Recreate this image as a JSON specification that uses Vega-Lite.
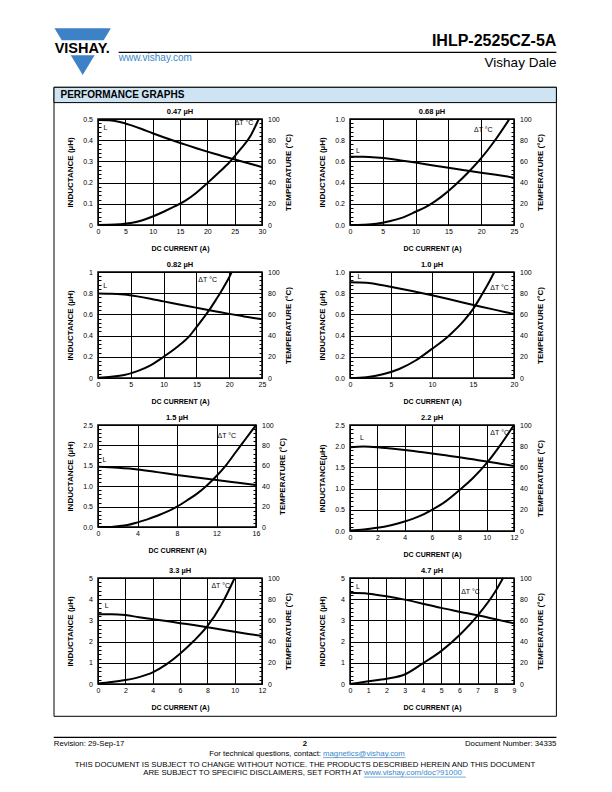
{
  "$schema": "https://vega.github.io/schema/vega-lite/v6.json",
  "padding": 0,
  "background": "white",
  "bounds": "flush",
  "spacing": 0,
  "datasets": {
    "p1L": [{"a":0,"v":0.495},{"a":2,"v":0.494},{"a":4,"v":0.486},{"a":6,"v":0.471},{"a":8,"v":0.453},{"a":10,"v":0.433},{"a":12,"v":0.414},{"a":14,"v":0.396},{"a":16,"v":0.379},{"a":18,"v":0.362},{"a":20,"v":0.346},{"a":22,"v":0.331},{"a":24,"v":0.316},{"a":26,"v":0.302},{"a":28,"v":0.288},{"a":30,"v":0.273}],
    "p1T": [{"a":0,"v":0},{"a":2,"v":0.2},{"a":4,"v":0.7},{"a":6,"v":1.8},{"a":8,"v":4.3},{"a":10,"v":8},{"a":12,"v":12.5},{"a":14,"v":17.5},{"a":16,"v":23},{"a":18,"v":30.5},{"a":20,"v":39.5},{"a":22,"v":49},{"a":24,"v":59},{"a":26,"v":71},{"a":28,"v":85},{"a":29.4,"v":100}],
    "p2L": [{"a":0,"v":0.645},{"a":2,"v":0.643},{"a":4,"v":0.636},{"a":6,"v":0.625},{"a":8,"v":0.607},{"a":10,"v":0.589},{"a":12,"v":0.569},{"a":14,"v":0.549},{"a":16,"v":0.53},{"a":18,"v":0.512},{"a":20,"v":0.494},{"a":22,"v":0.476},{"a":24,"v":0.457},{"a":25,"v":0.447}],
    "p2T": [{"a":0,"v":0},{"a":2,"v":0.3},{"a":4,"v":1.2},{"a":6,"v":3.5},{"a":8,"v":7},{"a":10,"v":12.5},{"a":12,"v":18.5},{"a":14,"v":27},{"a":16,"v":37.5},{"a":18,"v":49.5},{"a":20,"v":63},{"a":22,"v":79},{"a":24.3,"v":100}],
    "p3L": [{"a":0,"v":0.796},{"a":2,"v":0.795},{"a":4,"v":0.787},{"a":6,"v":0.77},{"a":8,"v":0.748},{"a":10,"v":0.723},{"a":12,"v":0.699},{"a":14,"v":0.675},{"a":16,"v":0.651},{"a":18,"v":0.628},{"a":20,"v":0.605},{"a":22,"v":0.584},{"a":24,"v":0.564},{"a":25,"v":0.555}],
    "p3T": [{"a":0,"v":0.3},{"a":2,"v":1.2},{"a":4,"v":2.8},{"a":6,"v":6.5},{"a":8,"v":12},{"a":10,"v":20},{"a":12,"v":29},{"a":14,"v":40},{"a":15,"v":48},{"a":16,"v":56},{"a":17,"v":64.5},{"a":18,"v":74},{"a":19,"v":84},{"a":20,"v":95},{"a":20.4,"v":100}],
    "p4L": [{"a":0,"v":0.903},{"a":2,"v":0.899},{"a":4,"v":0.874},{"a":6,"v":0.845},{"a":8,"v":0.813},{"a":10,"v":0.78},{"a":12,"v":0.745},{"a":14,"v":0.708},{"a":16,"v":0.672},{"a":18,"v":0.638},{"a":20,"v":0.604}],
    "p4T": [{"a":0,"v":0},{"a":2,"v":0.8},{"a":4,"v":3.5},{"a":6,"v":8.5},{"a":8,"v":16.5},{"a":10,"v":27.5},{"a":12,"v":39.5},{"a":14,"v":55},{"a":15,"v":65},{"a":16,"v":77.5},{"a":17,"v":91},{"a":17.6,"v":100}],
    "p5L": [{"a":0,"v":1.476},{"a":2,"v":1.45},{"a":4,"v":1.41},{"a":6,"v":1.345},{"a":8,"v":1.277},{"a":10,"v":1.212},{"a":12,"v":1.15},{"a":14,"v":1.09},{"a":16,"v":1.03}],
    "p5T": [{"a":0,"v":0},{"a":1,"v":0},{"a":2,"v":0.8},{"a":3,"v":2},{"a":4,"v":4.5},{"a":5,"v":7.5},{"a":6,"v":11},{"a":7,"v":15},{"a":8,"v":20},{"a":9,"v":26},{"a":10,"v":32.5},{"a":11,"v":40.5},{"a":12,"v":50},{"a":13,"v":61},{"a":14,"v":74},{"a":15,"v":87},{"a":16,"v":100}],
    "p6L": [{"a":0,"v":1.975},{"a":1,"v":1.99},{"a":2,"v":1.975},{"a":3,"v":1.945},{"a":4,"v":1.91},{"a":5,"v":1.87},{"a":6,"v":1.83},{"a":7,"v":1.785},{"a":8,"v":1.74},{"a":9,"v":1.69},{"a":10,"v":1.64},{"a":11,"v":1.588},{"a":12,"v":1.535}],
    "p6T": [{"a":0,"v":0.5},{"a":1,"v":1.5},{"a":2,"v":3},{"a":3,"v":5.5},{"a":4,"v":9},{"a":5,"v":13.5},{"a":6,"v":20},{"a":7,"v":28},{"a":8,"v":38.5},{"a":9,"v":50},{"a":10,"v":64},{"a":11,"v":81},{"a":12,"v":100}],
    "p7L": [{"a":0,"v":3.29},{"a":1,"v":3.29},{"a":2,"v":3.25},{"a":3,"v":3.15},{"a":4,"v":3.06},{"a":5,"v":2.97},{"a":6,"v":2.87},{"a":7,"v":2.78},{"a":8,"v":2.68},{"a":9,"v":2.57},{"a":10,"v":2.46},{"a":11,"v":2.36},{"a":12,"v":2.27}],
    "p7T": [{"a":0,"v":0.5},{"a":1,"v":1.8},{"a":2,"v":3.7},{"a":3,"v":6.5},{"a":4,"v":11},{"a":5,"v":18.5},{"a":6,"v":28.5},{"a":7,"v":40.5},{"a":8,"v":54.5},{"a":9,"v":74},{"a":10,"v":100}],
    "p8L": [{"a":0,"v":4.3},{"a":1,"v":4.26},{"a":2,"v":4.14},{"a":3,"v":3.98},{"a":4,"v":3.79},{"a":5,"v":3.59},{"a":6,"v":3.41},{"a":7,"v":3.24},{"a":8,"v":3.05},{"a":9,"v":2.86}],
    "p8T": [{"a":0,"v":0},{"a":1,"v":2.5},{"a":2,"v":5},{"a":3,"v":9},{"a":4,"v":19.5},{"a":5,"v":31},{"a":6,"v":46},{"a":7,"v":64.5},{"a":8,"v":88},{"a":8.4,"v":100}]
  },
  "vconcat": [
    {
      "width": 459,
      "height": 1,
      "data": {"values": [{}]},
      "view": {"stroke": null},
      "layer": [
        {"mark": {"type": "rect", "color": "white"}, "encoding": {"x": {"datum": 0, "scale": {"domain": [98, 557], "nice": false, "zero": false}, "axis": null}, "x2": {"datum": 612}, "y": {"datum": 0, "scale": {"domain": [118, 119], "reverse": true, "nice": false, "zero": false}, "axis": null}, "y2": {"datum": 792}}},
        {"mark": {"type": "rect", "filled": false, "color": "black", "strokeWidth": 1}, "encoding": {"x": {"datum": 54, "scale": {"domain": [98, 557], "nice": false, "zero": false}, "axis": null}, "x2": {"datum": 556.4}, "y": {"datum": 87.3, "scale": {"domain": [118, 119], "reverse": true, "nice": false, "zero": false}, "axis": null}, "y2": {"datum": 716.3}}},
        {"mark": {"type": "rect", "fill": "#cfe4f2", "stroke": "black", "strokeWidth": 1}, "encoding": {"x": {"datum": 54, "scale": {"domain": [98, 557], "nice": false, "zero": false}, "axis": null}, "x2": {"datum": 556.4}, "y": {"datum": 87.3, "scale": {"domain": [118, 119], "reverse": true, "nice": false, "zero": false}, "axis": null}, "y2": {"datum": 102.6}}},
        {"mark": {"type": "text", "align": "left", "baseline": "middle", "fontSize": 10, "fontWeight": "bold"}, "encoding": {"x": {"datum": 60.5, "scale": {"domain": [98, 557], "nice": false, "zero": false}, "axis": null}, "y": {"datum": 95, "scale": {"domain": [118, 119], "reverse": true, "nice": false, "zero": false}, "axis": null}, "text": {"value": "PERFORMANCE GRAPHS"}}},
        {"mark": {"type": "point", "shape": "M-1,-1L1,-1L0,0.656Z", "size": 3181, "filled": true, "color": "#3d82c6", "opacity": 1, "strokeWidth": 0}, "encoding": {"x": {"datum": 82.7, "scale": {"domain": [98, 557], "nice": false, "zero": false}, "axis": null}, "y": {"datum": 56.5, "scale": {"domain": [118, 119], "reverse": true, "nice": false, "zero": false}, "axis": null}}},
        {"mark": {"type": "rect", "color": "white"}, "encoding": {"x": {"datum": 52, "scale": {"domain": [98, 557], "nice": false, "zero": false}, "axis": null}, "x2": {"datum": 113}, "y": {"datum": 40.3, "scale": {"domain": [118, 119], "reverse": true, "nice": false, "zero": false}, "axis": null}, "y2": {"datum": 55.3}}},
        {"mark": {"type": "text", "align": "center", "baseline": "alphabetic", "fontSize": 14.5, "fontWeight": "bold"}, "encoding": {"x": {"datum": 82.2, "scale": {"domain": [98, 557], "nice": false, "zero": false}, "axis": null}, "y": {"datum": 53.3, "scale": {"domain": [118, 119], "reverse": true, "nice": false, "zero": false}, "axis": null}, "text": {"value": "VISHAY."}}},
        {"mark": {"type": "rule", "color": "black", "strokeWidth": 1.2}, "encoding": {"x": {"datum": 118.7, "scale": {"domain": [98, 557], "nice": false, "zero": false}, "axis": null}, "x2": {"datum": 556.4}, "y": {"datum": 52.3, "scale": {"domain": [118, 119], "reverse": true, "nice": false, "zero": false}, "axis": null}}},
        {"mark": {"type": "text", "align": "right", "baseline": "alphabetic", "fontSize": 16, "fontWeight": "bold"}, "encoding": {"x": {"datum": 556.4, "scale": {"domain": [98, 557], "nice": false, "zero": false}, "axis": null}, "y": {"datum": 46, "scale": {"domain": [118, 119], "reverse": true, "nice": false, "zero": false}, "axis": null}, "text": {"value": "IHLP-2525CZ-5A"}}},
        {"mark": {"type": "text", "align": "right", "baseline": "alphabetic", "fontSize": 13.5}, "encoding": {"x": {"datum": 556.4, "scale": {"domain": [98, 557], "nice": false, "zero": false}, "axis": null}, "y": {"datum": 66.7, "scale": {"domain": [118, 119], "reverse": true, "nice": false, "zero": false}, "axis": null}, "text": {"value": "Vishay Dale"}}},
        {"mark": {"type": "text", "align": "left", "baseline": "middle", "fontSize": 10, "color": "#3b87c9"}, "encoding": {"x": {"datum": 118.7, "scale": {"domain": [98, 557], "nice": false, "zero": false}, "axis": null}, "y": {"datum": 58.3, "scale": {"domain": [118, 119], "reverse": true, "nice": false, "zero": false}, "axis": null}, "text": {"value": "www.vishay.com"}}},
        {"mark": {"type": "rule", "color": "black", "strokeWidth": 1.2}, "encoding": {"x": {"datum": 53.8, "scale": {"domain": [98, 557], "nice": false, "zero": false}, "axis": null}, "x2": {"datum": 556.4}, "y": {"datum": 737.4, "scale": {"domain": [118, 119], "reverse": true, "nice": false, "zero": false}, "axis": null}}},
        {"mark": {"type": "text", "align": "left", "baseline": "middle", "fontSize": 7.8}, "encoding": {"x": {"datum": 53.8, "scale": {"domain": [98, 557], "nice": false, "zero": false}, "axis": null}, "y": {"datum": 743.5, "scale": {"domain": [118, 119], "reverse": true, "nice": false, "zero": false}, "axis": null}, "text": {"value": "Revision: 29-Sep-17"}}},
        {"mark": {"type": "text", "align": "center", "baseline": "middle", "fontSize": 7.8, "fontWeight": "bold"}, "encoding": {"x": {"datum": 305, "scale": {"domain": [98, 557], "nice": false, "zero": false}, "axis": null}, "y": {"datum": 743.5, "scale": {"domain": [118, 119], "reverse": true, "nice": false, "zero": false}, "axis": null}, "text": {"value": "2"}}},
        {"mark": {"type": "text", "align": "right", "baseline": "middle", "fontSize": 7.8}, "encoding": {"x": {"datum": 556.4, "scale": {"domain": [98, 557], "nice": false, "zero": false}, "axis": null}, "y": {"datum": 743.5, "scale": {"domain": [118, 119], "reverse": true, "nice": false, "zero": false}, "axis": null}, "text": {"value": "Document Number: 34335"}}},
        {"mark": {"type": "text", "align": "right", "baseline": "middle", "fontSize": 7.8}, "encoding": {"x": {"datum": 321, "scale": {"domain": [98, 557], "nice": false, "zero": false}, "axis": null}, "y": {"datum": 753.7, "scale": {"domain": [118, 119], "reverse": true, "nice": false, "zero": false}, "axis": null}, "text": {"value": "For technical questions, contact:"}}},
        {"mark": {"type": "text", "align": "left", "baseline": "middle", "fontSize": 7.8, "color": "#3b87c9"}, "encoding": {"x": {"datum": 323, "scale": {"domain": [98, 557], "nice": false, "zero": false}, "axis": null}, "y": {"datum": 753.7, "scale": {"domain": [118, 119], "reverse": true, "nice": false, "zero": false}, "axis": null}, "text": {"value": "magnetics@vishay.com"}}},
        {"mark": {"type": "rule", "color": "#3b87c9", "strokeWidth": 0.7}, "encoding": {"x": {"datum": 323, "scale": {"domain": [98, 557], "nice": false, "zero": false}, "axis": null}, "x2": {"datum": 405.5}, "y": {"datum": 757.6, "scale": {"domain": [118, 119], "reverse": true, "nice": false, "zero": false}, "axis": null}}},
        {"mark": {"type": "text", "align": "center", "baseline": "middle", "fontSize": 7.8}, "encoding": {"x": {"datum": 305, "scale": {"domain": [98, 557], "nice": false, "zero": false}, "axis": null}, "y": {"datum": 765.3, "scale": {"domain": [118, 119], "reverse": true, "nice": false, "zero": false}, "axis": null}, "text": {"value": "THIS DOCUMENT IS SUBJECT TO CHANGE WITHOUT NOTICE. THE PRODUCTS DESCRIBED HEREIN AND THIS DOCUMENT"}}},
        {"mark": {"type": "text", "align": "right", "baseline": "middle", "fontSize": 7.8}, "encoding": {"x": {"datum": 362, "scale": {"domain": [98, 557], "nice": false, "zero": false}, "axis": null}, "y": {"datum": 773.2, "scale": {"domain": [118, 119], "reverse": true, "nice": false, "zero": false}, "axis": null}, "text": {"value": "ARE SUBJECT TO SPECIFIC DISCLAIMERS, SET FORTH AT"}}},
        {"mark": {"type": "text", "align": "left", "baseline": "middle", "fontSize": 7.8, "color": "#3b87c9"}, "encoding": {"x": {"datum": 364, "scale": {"domain": [98, 557], "nice": false, "zero": false}, "axis": null}, "y": {"datum": 773.2, "scale": {"domain": [118, 119], "reverse": true, "nice": false, "zero": false}, "axis": null}, "text": {"value": "www.vishay.com/doc?91000"}}},
        {"mark": {"type": "rule", "color": "#3b87c9", "strokeWidth": 0.7}, "encoding": {"x": {"datum": 364, "scale": {"domain": [98, 557], "nice": false, "zero": false}, "axis": null}, "x2": {"datum": 465.8}, "y": {"datum": 777.1, "scale": {"domain": [118, 119], "reverse": true, "nice": false, "zero": false}, "axis": null}}}
      ]
    },
    {
      "columns": 2,
      "bounds": "flush",
      "spacing": {"row": 47, "column": 88},
      "concat": [
        {
          "width": 164, "height": 106, "title": "0.47 µH",
          "encoding": {"x": {"field": "a", "type": "quantitative", "title": "DC CURRENT (A)", "scale": {"domain": [0, 30], "nice": false}, "axis": {"values": [0, 5, 10, 15, 20, 25, 30]}}},
          "layer": [
            {"encoding": {"y": {"field": "v", "type": "quantitative", "title": "INDUCTANCE (µH)", "scale": {"domain": [0, 0.5], "nice": false}, "axis": {"orient": "left", "format": "~g", "values": [0,0.02,0.04,0.06,0.08,0.1,0.12,0.14,0.16,0.18,0.2,0.22,0.24,0.26,0.28,0.3,0.32,0.34,0.36,0.38,0.4,0.42,0.44,0.46,0.48,0.5], "labelExpr": "indexof([0,0.1,0.2,0.3,0.4,0.5], datum.value) >= 0 ? datum.label : ''", "gridOpacity": {"condition": {"test": "indexof([0,0.1,0.2,0.3,0.4,0.5], datum.value) >= 0", "value": 1}, "value": 0}, "tickOpacity": {"condition": {"test": "indexof([0,0.1,0.2,0.3,0.4,0.5], datum.value) >= 0", "value": 0}, "value": 1}}}},
             "layer": [
               {"data": {"name": "p1L"}, "mark": "line"},
               {"data": {"values": [{"a": 1, "v": 0.456, "t": "L"}]}, "mark": {"type": "text", "align": "left"}, "encoding": {"text": {"field": "t"}}}
             ]},
            {"encoding": {"y": {"field": "v", "type": "quantitative", "title": "TEMPERATURE (°C)", "scale": {"domain": [0, 100], "nice": false}, "axis": {"orient": "right", "grid": false, "values": [0,4,8,12,16,20,24,28,32,36,40,44,48,52,56,60,64,68,72,76,80,84,88,92,96,100], "labelExpr": "indexof([0,20,40,60,80,100], datum.value) >= 0 ? datum.label : ''", "tickOpacity": {"condition": {"test": "indexof([0,20,40,60,80,100], datum.value) >= 0", "value": 0}, "value": 1}}}},
             "layer": [
               {"data": {"name": "p1T"}, "mark": "line"},
               {"data": {"values": [{"a": 25, "v": 96.5, "t": "ΔT °C"}]}, "mark": {"type": "text", "align": "left"}, "encoding": {"text": {"field": "t"}}}
             ]}
          ],
          "resolve": {"scale": {"y": "independent"}}
        },
        {
          "width": 164, "height": 106, "title": "0.68 µH",
          "encoding": {"x": {"field": "a", "type": "quantitative", "title": "DC CURRENT (A)", "scale": {"domain": [0, 25], "nice": false}, "axis": {"values": [0, 5, 10, 15, 20, 25]}}},
          "layer": [
            {"encoding": {"y": {"field": "v", "type": "quantitative", "title": "INDUCTANCE (µH)", "scale": {"domain": [0, 1], "nice": false}, "axis": {"orient": "left", "format": ".1f", "values": [0,0.04,0.08,0.12,0.16,0.2,0.24,0.28,0.32,0.36,0.4,0.44,0.48,0.52,0.56,0.6,0.64,0.68,0.72,0.76,0.8,0.84,0.88,0.92,0.96,1], "labelExpr": "indexof([0,0.2,0.4,0.6,0.8,1], datum.value) >= 0 ? datum.label : ''", "gridOpacity": {"condition": {"test": "indexof([0,0.2,0.4,0.6,0.8,1], datum.value) >= 0", "value": 1}, "value": 0}, "tickOpacity": {"condition": {"test": "indexof([0,0.2,0.4,0.6,0.8,1], datum.value) >= 0", "value": 0}, "value": 1}}}},
             "layer": [
               {"data": {"name": "p2L"}, "mark": "line"},
               {"data": {"values": [{"a": 0.9, "v": 0.7, "t": "L"}]}, "mark": {"type": "text", "align": "left"}, "encoding": {"text": {"field": "t"}}}
             ]},
            {"encoding": {"y": {"field": "v", "type": "quantitative", "title": "TEMPERATURE (°C)", "scale": {"domain": [0, 100], "nice": false}, "axis": {"orient": "right", "grid": false, "values": [0,4,8,12,16,20,24,28,32,36,40,44,48,52,56,60,64,68,72,76,80,84,88,92,96,100], "labelExpr": "indexof([0,20,40,60,80,100], datum.value) >= 0 ? datum.label : ''", "tickOpacity": {"condition": {"test": "indexof([0,20,40,60,80,100], datum.value) >= 0", "value": 0}, "value": 1}}}},
             "layer": [
               {"data": {"name": "p2T"}, "mark": "line"},
               {"data": {"values": [{"a": 18.9, "v": 89.6, "t": "ΔT °C"}]}, "mark": {"type": "text", "align": "left"}, "encoding": {"text": {"field": "t"}}}
             ]}
          ],
          "resolve": {"scale": {"y": "independent"}}
        },
        {
          "width": 164, "height": 106, "title": "0.82 µH",
          "encoding": {"x": {"field": "a", "type": "quantitative", "title": "DC CURRENT (A)", "scale": {"domain": [0, 25], "nice": false}, "axis": {"values": [0, 5, 10, 15, 20, 25]}}},
          "layer": [
            {"encoding": {"y": {"field": "v", "type": "quantitative", "title": "INDUCTANCE (µH)", "scale": {"domain": [0, 1], "nice": false}, "axis": {"orient": "left", "format": "~g", "values": [0,0.04,0.08,0.12,0.16,0.2,0.24,0.28,0.32,0.36,0.4,0.44,0.48,0.52,0.56,0.6,0.64,0.68,0.72,0.76,0.8,0.84,0.88,0.92,0.96,1], "labelExpr": "indexof([0,0.2,0.4,0.6,0.8,1], datum.value) >= 0 ? datum.label : ''", "gridOpacity": {"condition": {"test": "indexof([0,0.2,0.4,0.6,0.8,1], datum.value) >= 0", "value": 1}, "value": 0}, "tickOpacity": {"condition": {"test": "indexof([0,0.2,0.4,0.6,0.8,1], datum.value) >= 0", "value": 0}, "value": 1}}}},
             "layer": [
               {"data": {"name": "p3L"}, "mark": "line"},
               {"data": {"values": [{"a": 0.8, "v": 0.865, "t": "L"}]}, "mark": {"type": "text", "align": "left"}, "encoding": {"text": {"field": "t"}}}
             ]},
            {"encoding": {"y": {"field": "v", "type": "quantitative", "title": "TEMPERATURE (°C)", "scale": {"domain": [0, 100], "nice": false}, "axis": {"orient": "right", "grid": false, "values": [0,4,8,12,16,20,24,28,32,36,40,44,48,52,56,60,64,68,72,76,80,84,88,92,96,100], "labelExpr": "indexof([0,20,40,60,80,100], datum.value) >= 0 ? datum.label : ''", "tickOpacity": {"condition": {"test": "indexof([0,20,40,60,80,100], datum.value) >= 0", "value": 0}, "value": 1}}}},
             "layer": [
               {"data": {"name": "p3T"}, "mark": "line"},
               {"data": {"values": [{"a": 15.3, "v": 92.8, "t": "ΔT °C"}]}, "mark": {"type": "text", "align": "left"}, "encoding": {"text": {"field": "t"}}}
             ]}
          ],
          "resolve": {"scale": {"y": "independent"}}
        },
        {
          "width": 164, "height": 106, "title": "1.0 µH",
          "encoding": {"x": {"field": "a", "type": "quantitative", "title": "DC CURRENT (A)", "scale": {"domain": [0, 20], "nice": false}, "axis": {"values": [0, 5, 10, 15, 20]}}},
          "layer": [
            {"encoding": {"y": {"field": "v", "type": "quantitative", "title": "INDUCTANCE (µH)", "scale": {"domain": [0, 1], "nice": false}, "axis": {"orient": "left", "format": ".1f", "values": [0,0.04,0.08,0.12,0.16,0.2,0.24,0.28,0.32,0.36,0.4,0.44,0.48,0.52,0.56,0.6,0.64,0.68,0.72,0.76,0.8,0.84,0.88,0.92,0.96,1], "labelExpr": "indexof([0,0.2,0.4,0.6,0.8,1], datum.value) >= 0 ? datum.label : ''", "gridOpacity": {"condition": {"test": "indexof([0,0.2,0.4,0.6,0.8,1], datum.value) >= 0", "value": 1}, "value": 0}, "tickOpacity": {"condition": {"test": "indexof([0,0.2,0.4,0.6,0.8,1], datum.value) >= 0", "value": 0}, "value": 1}}}},
             "layer": [
               {"data": {"name": "p4L"}, "mark": "line"},
               {"data": {"values": [{"a": 0.9, "v": 0.95, "t": "L"}]}, "mark": {"type": "text", "align": "left"}, "encoding": {"text": {"field": "t"}}}
             ]},
            {"encoding": {"y": {"field": "v", "type": "quantitative", "title": "TEMPERATURE (°C)", "scale": {"domain": [0, 100], "nice": false}, "axis": {"orient": "right", "grid": false, "values": [0,4,8,12,16,20,24,28,32,36,40,44,48,52,56,60,64,68,72,76,80,84,88,92,96,100], "labelExpr": "indexof([0,20,40,60,80,100], datum.value) >= 0 ? datum.label : ''", "tickOpacity": {"condition": {"test": "indexof([0,20,40,60,80,100], datum.value) >= 0", "value": 0}, "value": 1}}}},
             "layer": [
               {"data": {"name": "p4T"}, "mark": "line"},
               {"data": {"values": [{"a": 17.1, "v": 84.6, "t": "ΔT °C"}]}, "mark": {"type": "text", "align": "left"}, "encoding": {"text": {"field": "t"}}}
             ]}
          ],
          "resolve": {"scale": {"y": "independent"}}
        },
        {
          "width": 158, "height": 102, "title": "1.5 µH",
          "encoding": {"x": {"field": "a", "type": "quantitative", "title": "DC CURRENT (A)", "scale": {"domain": [0, 16], "nice": false}, "axis": {"values": [0, 4, 8, 12, 16]}}},
          "layer": [
            {"encoding": {"y": {"field": "v", "type": "quantitative", "title": "INDUCTANCE (µH)", "scale": {"domain": [0, 2.5], "nice": false}, "axis": {"orient": "left", "format": ".1f", "values": [0,0.1,0.2,0.3,0.4,0.5,0.6,0.7,0.8,0.9,1,1.1,1.2,1.3,1.4,1.5,1.6,1.7,1.8,1.9,2,2.1,2.2,2.3,2.4,2.5], "labelExpr": "indexof([0,0.5,1,1.5,2,2.5], datum.value) >= 0 ? datum.label : ''", "gridOpacity": {"condition": {"test": "indexof([0,0.5,1,1.5,2,2.5], datum.value) >= 0", "value": 1}, "value": 0}, "tickOpacity": {"condition": {"test": "indexof([0,0.5,1,1.5,2,2.5], datum.value) >= 0", "value": 0}, "value": 1}}}},
             "layer": [
               {"data": {"name": "p5L"}, "mark": "line"},
               {"data": {"values": [{"a": 0.45, "v": 1.636, "t": "L"}]}, "mark": {"type": "text", "align": "left"}, "encoding": {"text": {"field": "t"}}}
             ]},
            {"encoding": {"y": {"field": "v", "type": "quantitative", "title": "TEMPERATURE (°C)", "scale": {"domain": [0, 100], "nice": false}, "axis": {"orient": "right", "grid": false, "values": [0,4,8,12,16,20,24,28,32,36,40,44,48,52,56,60,64,68,72,76,80,84,88,92,96,100], "labelExpr": "indexof([0,20,40,60,80,100], datum.value) >= 0 ? datum.label : ''", "tickOpacity": {"condition": {"test": "indexof([0,20,40,60,80,100], datum.value) >= 0", "value": 0}, "value": 1}}}},
             "layer": [
               {"data": {"name": "p5T"}, "mark": "line"},
               {"data": {"values": [{"a": 12.1, "v": 89.6, "t": "ΔT °C"}]}, "mark": {"type": "text", "align": "left"}, "encoding": {"text": {"field": "t"}}}
             ]}
          ],
          "resolve": {"scale": {"y": "independent"}}
        },
        {
          "width": 164, "height": 106, "title": "2.2 µH",
          "encoding": {"x": {"field": "a", "type": "quantitative", "title": "DC CURRENT (A)", "scale": {"domain": [0, 12], "nice": false}, "axis": {"values": [0, 2, 4, 6, 8, 10, 12]}}},
          "layer": [
            {"encoding": {"y": {"field": "v", "type": "quantitative", "title": "INDUCTANCE(µH)", "scale": {"domain": [0, 2.5], "nice": false}, "axis": {"orient": "left", "format": ".1f", "values": [0,0.1,0.2,0.3,0.4,0.5,0.6,0.7,0.8,0.9,1,1.1,1.2,1.3,1.4,1.5,1.6,1.7,1.8,1.9,2,2.1,2.2,2.3,2.4,2.5], "labelExpr": "indexof([0,0.5,1,1.5,2,2.5], datum.value) >= 0 ? datum.label : ''", "gridOpacity": {"condition": {"test": "indexof([0,0.5,1,1.5,2,2.5], datum.value) >= 0", "value": 1}, "value": 0}, "tickOpacity": {"condition": {"test": "indexof([0,0.5,1,1.5,2,2.5], datum.value) >= 0", "value": 0}, "value": 1}}}},
             "layer": [
               {"data": {"name": "p6L"}, "mark": "line"},
               {"data": {"values": [{"a": 0.73, "v": 2.19, "t": "L"}]}, "mark": {"type": "text", "align": "left"}, "encoding": {"text": {"field": "t"}}}
             ]},
            {"encoding": {"y": {"field": "v", "type": "quantitative", "title": "TEMPERATURE (°C)", "scale": {"domain": [0, 100], "nice": false}, "axis": {"orient": "right", "grid": false, "values": [0,4,8,12,16,20,24,28,32,36,40,44,48,52,56,60,64,68,72,76,80,84,88,92,96,100], "labelExpr": "indexof([0,20,40,60,80,100], datum.value) >= 0 ? datum.label : ''", "tickOpacity": {"condition": {"test": "indexof([0,20,40,60,80,100], datum.value) >= 0", "value": 0}, "value": 1}}}},
             "layer": [
               {"data": {"name": "p6T"}, "mark": "line"},
               {"data": {"values": [{"a": 10.27, "v": 92.2, "t": "ΔT °C"}]}, "mark": {"type": "text", "align": "left"}, "encoding": {"text": {"field": "t"}}}
             ]}
          ],
          "resolve": {"scale": {"y": "independent"}}
        },
        {
          "width": 164, "height": 106, "title": "3.3 µH",
          "encoding": {"x": {"field": "a", "type": "quantitative", "title": "DC CURRENT (A)", "scale": {"domain": [0, 12], "nice": false}, "axis": {"values": [0, 2, 4, 6, 8, 10, 12]}}},
          "layer": [
            {"encoding": {"y": {"field": "v", "type": "quantitative", "title": "INDUCTANCE (µH)", "scale": {"domain": [0, 5], "nice": false}, "axis": {"orient": "left", "format": "~g", "values": [0,0.2,0.4,0.6,0.8,1,1.2,1.4,1.6,1.8,2,2.2,2.4,2.6,2.8,3,3.2,3.4,3.6,3.8,4,4.2,4.4,4.6,4.8,5], "labelExpr": "indexof([0,1,2,3,4,5], datum.value) >= 0 ? datum.label : ''", "gridOpacity": {"condition": {"test": "indexof([0,1,2,3,4,5], datum.value) >= 0", "value": 1}, "value": 0}, "tickOpacity": {"condition": {"test": "indexof([0,1,2,3,4,5], datum.value) >= 0", "value": 0}, "value": 1}}}},
             "layer": [
               {"data": {"name": "p7L"}, "mark": "line"},
               {"data": {"values": [{"a": 0.5, "v": 3.7, "t": "L"}]}, "mark": {"type": "text", "align": "left"}, "encoding": {"text": {"field": "t"}}}
             ]},
            {"encoding": {"y": {"field": "v", "type": "quantitative", "title": "TEMPERATURE (°C)", "scale": {"domain": [0, 100], "nice": false}, "axis": {"orient": "right", "grid": false, "values": [0,4,8,12,16,20,24,28,32,36,40,44,48,52,56,60,64,68,72,76,80,84,88,92,96,100], "labelExpr": "indexof([0,20,40,60,80,100], datum.value) >= 0 ? datum.label : ''", "tickOpacity": {"condition": {"test": "indexof([0,20,40,60,80,100], datum.value) >= 0", "value": 0}, "value": 1}}}},
             "layer": [
               {"data": {"name": "p7T"}, "mark": "line"},
               {"data": {"values": [{"a": 8.3, "v": 92.2, "t": "ΔT °C"}]}, "mark": {"type": "text", "align": "left"}, "encoding": {"text": {"field": "t"}}}
             ]}
          ],
          "resolve": {"scale": {"y": "independent"}}
        },
        {
          "width": 164, "height": 106, "title": "4.7 µH",
          "encoding": {"x": {"field": "a", "type": "quantitative", "title": "DC CURRENT (A)", "scale": {"domain": [0, 9], "nice": false}, "axis": {"values": [0, 1, 2, 3, 4, 5, 6, 7, 8, 9]}}},
          "layer": [
            {"encoding": {"y": {"field": "v", "type": "quantitative", "title": "INDUCTANCE (µH)", "scale": {"domain": [0, 5], "nice": false}, "axis": {"orient": "left", "format": "~g", "values": [0,0.2,0.4,0.6,0.8,1,1.2,1.4,1.6,1.8,2,2.2,2.4,2.6,2.8,3,3.2,3.4,3.6,3.8,4,4.2,4.4,4.6,4.8,5], "labelExpr": "indexof([0,1,2,3,4,5], datum.value) >= 0 ? datum.label : ''", "gridOpacity": {"condition": {"test": "indexof([0,1,2,3,4,5], datum.value) >= 0", "value": 1}, "value": 0}, "tickOpacity": {"condition": {"test": "indexof([0,1,2,3,4,5], datum.value) >= 0", "value": 0}, "value": 1}}}},
             "layer": [
               {"data": {"name": "p8L"}, "mark": "line"},
               {"data": {"values": [{"a": 0.33, "v": 4.56, "t": "L"}]}, "mark": {"type": "text", "align": "left"}, "encoding": {"text": {"field": "t"}}}
             ]},
            {"encoding": {"y": {"field": "v", "type": "quantitative", "title": "TEMPERATURE (°C)", "scale": {"domain": [0, 100], "nice": false}, "axis": {"orient": "right", "grid": false, "values": [0,4,8,12,16,20,24,28,32,36,40,44,48,52,56,60,64,68,72,76,80,84,88,92,96,100], "labelExpr": "indexof([0,20,40,60,80,100], datum.value) >= 0 ? datum.label : ''", "tickOpacity": {"condition": {"test": "indexof([0,20,40,60,80,100], datum.value) >= 0", "value": 0}, "value": 1}}}},
             "layer": [
               {"data": {"name": "p8T"}, "mark": "line"},
               {"data": {"values": [{"a": 6.1, "v": 87.2, "t": "ΔT °C"}]}, "mark": {"type": "text", "align": "left"}, "encoding": {"text": {"field": "t"}}}
             ]}
          ],
          "resolve": {"scale": {"y": "independent"}}
        }
      ]
    }
  ],
  "config": {
    "font": "Liberation Sans",
    "view": {"stroke": "black", "strokeWidth": 1.5},
    "axis": {"labelFont": "Liberation Sans", "labelFontSize": 7, "labelColor": "black", "titleFont": "Liberation Sans", "titleFontWeight": "bold", "titleColor": "black", "domain": false, "ticks": false, "grid": true, "gridColor": "black", "gridOpacity": 1, "gridWidth": 1, "labelPadding": 5, "format": "d", "labelFlush": false, "labelOverlap": false},
    "axisX": {"titleFontSize": 7, "titleY": 23, "titleBaseline": "middle", "labelPadding": 2},
    "axisY": {"ticks": true, "tickSize": -3, "tickColor": "black", "tickWidth": 1, "labelPadding": 8.5},
    "axisLeft": {"titleFontSize": 8, "titleX": -28, "titleAngle": 270, "titleBaseline": "middle"},
    "axisRight": {"titleFontSize": 8, "titleX": 26, "titleAngle": 270, "titleBaseline": "middle", "grid": false},
    "title": {"font": "Liberation Sans", "fontSize": 7.5, "fontWeight": "bold", "color": "black", "offset": 0, "dy": 4},
    "line": {"color": "black", "strokeWidth": 2, "interpolate": "monotone"},
    "text": {"font": "Liberation Sans", "fontSize": 7, "color": "black"}
  }
}
